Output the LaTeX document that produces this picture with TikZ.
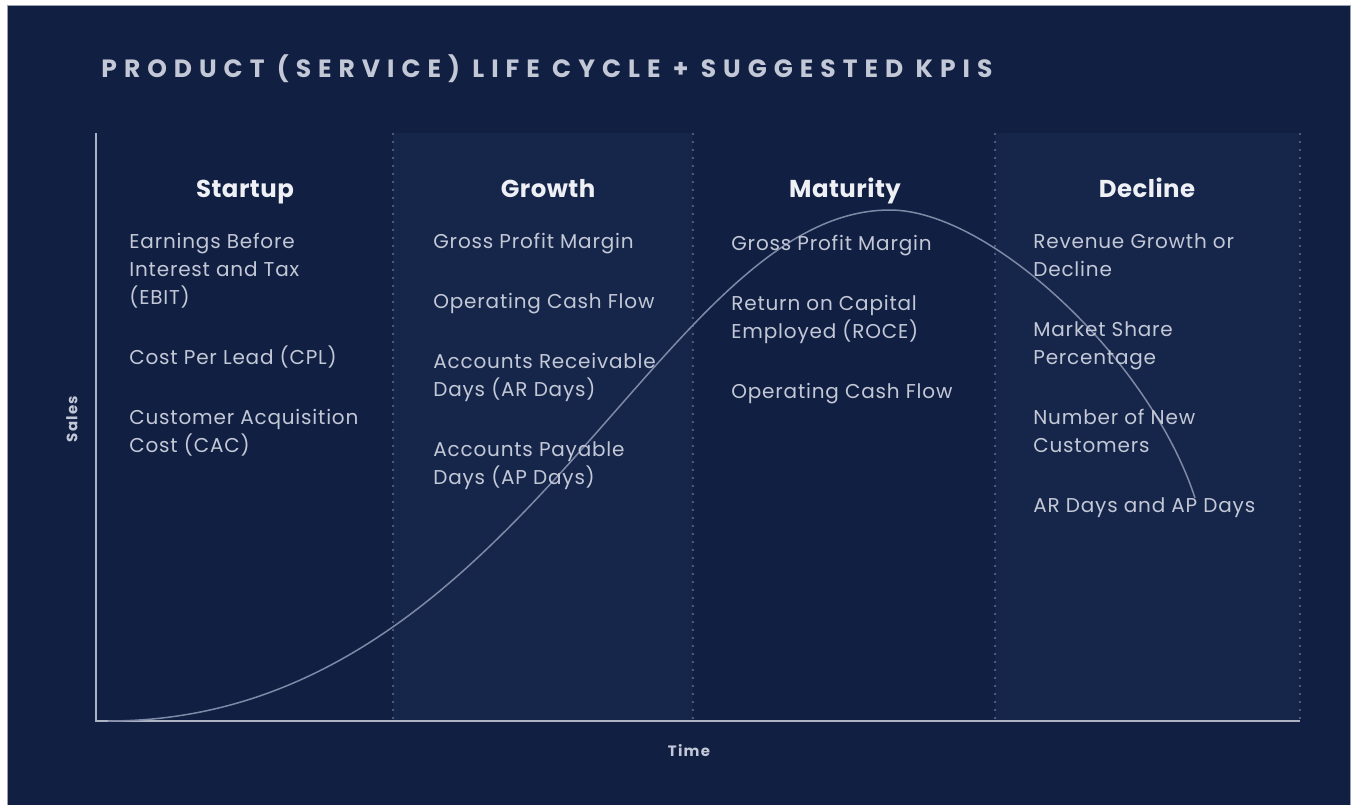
\documentclass[tikz,border=0pt]{standalone}
\usepackage{fontspec}
\setmainfont{Poppins}
\usepackage{xcolor}
\usepackage{tikz}
\usetikzlibrary{positioning,calc}

\definecolor{navyBg}{HTML}{111F42}
\definecolor{navyPanel}{HTML}{16254A}
\definecolor{frameGrey}{HTML}{9AA0B2}
\definecolor{axisGrey}{HTML}{AEB3C4}
\definecolor{dotGrey}{HTML}{4C587A}
\definecolor{curveGrey}{HTML}{7E89A6}
\definecolor{kpiText}{HTML}{C3C8D6}
\definecolor{headText}{HTML}{EEF0F5}

\begin{document}
\begin{tikzpicture}[x=0.5pt, y=-0.5pt,
    title/.style={anchor=base west, inner sep=0pt, text=kpiText, font=\fontsize{12.5}{14}\selectfont\bfseries\addfontfeatures{LetterSpace=28}},
    head/.style={anchor=base, inner sep=0pt, text=headText, font=\fontsize{12.2}{14}\selectfont\bfseries\addfontfeatures{LetterSpace=2}},
    kpi/.style={anchor=base west, align=left, inner sep=0pt, text=kpiText, font=\fontsize{10}{14}\selectfont\addfontfeatures{LetterSpace=4}},
    axisLabel/.style={inner sep=0pt, text=kpiText, font=\fontsize{7.5}{9}\selectfont\bfseries\addfontfeatures{LetterSpace=8}},
    divider/.style={dotGrey, line width=0.6pt, dash pattern=on 0.8pt off 3.2pt},
    axisLine/.style={axisGrey, line width=1.2pt},
    lifeCurve/.style={curveGrey, line width=0.75pt}
]
\useasboundingbox (0,0) rectangle (1356,805);

% ============== BACKGROUND ==============
\fill[white] (0,0) rectangle (1356,805);
\fill[navyBg] (7,5) rectangle (1350,805);
\draw[frameGrey, line width=0.5pt] (7,805) -- (7,5) -- (1350,5) -- (1350,805);

% shaded phase panels
\fill[navyPanel] (393,133) rectangle (693,721);
\fill[navyPanel] (995,133) rectangle (1300,721);

% phase dividers
\foreach \x in {393,693,995,1300}
    \draw[divider] (\x,133) -- (\x,721);

% ============== TITLE ==============
\node[title] (title) at (101,77) {PRODUCT (SERVICE) LIFE CYCLE + SUGGESTED KPIS};

% ============== AXES ==============
\coordinate (yTop) at (96,133);
\coordinate (origin) at (96,721);
\coordinate (xEnd) at (1300,721);
\draw[axisLine] (yTop) -- (origin) -- (xEnd);

\node[axisLabel, rotate=90] (sales) at (72,419) {Sales};
\node[axisLabel] (time) at (689,751) {Time};

% ============== SALES CURVE ==============
\coordinate (curveStart) at (108,721);
\coordinate (curvePeak) at (890,210);
\coordinate (curveEnd) at (1195,498);
\draw[lifeCurve] (curveStart)
    .. controls (520,721) and (660,210) .. (curvePeak)
    .. controls (990,210) and (1150,360) .. (curveEnd);

% ============== STARTUP ==============
% (kpi nodes sit on the baseline of their last line)
\node[head] (startupHead) at (245,197) {Startup};
\node[kpi] (startupEbit) at (129,304) {Earnings Before\\Interest and Tax\\(EBIT)};
\node[kpi] (startupCpl) at (129,364) {Cost Per Lead (CPL)};
\node[kpi] (startupCac) at (129,452) {Customer Acquisition\\Cost (CAC)};

% ============== GROWTH ==============
\node[head] (growthHead) at (548,197) {Growth};
\node[kpi] (growthGpm) at (433,248) {Gross Profit Margin};
\node[kpi] (growthOcf) at (433,308) {Operating Cash Flow};
\node[kpi] (growthAr) at (433,396) {Accounts Receivable\\Days (AR Days)};
\node[kpi] (growthAp) at (433,484) {Accounts Payable\\Days (AP Days)};

% ============== MATURITY ==============
\node[head] (maturityHead) at (845,197) {Maturity};
\node[kpi] (maturityGpm) at (731,250) {Gross Profit Margin};
\node[kpi] (maturityRoce) at (731,338) {Return on Capital\\Employed (ROCE)};
\node[kpi] (maturityOcf) at (731,398) {Operating Cash Flow};

% ============== DECLINE ==============
\node[head] (declineHead) at (1147,197) {Decline};
\node[kpi] (declineRev) at (1033,276) {Revenue Growth or\\Decline};
\node[kpi] (declineShare) at (1033,364) {Market Share\\Percentage};
\node[kpi] (declineCust) at (1033,452) {Number of New\\Customers};
\node[kpi] (declineDays) at (1033,512) {AR Days and AP Days};

\end{tikzpicture}
\end{document}
